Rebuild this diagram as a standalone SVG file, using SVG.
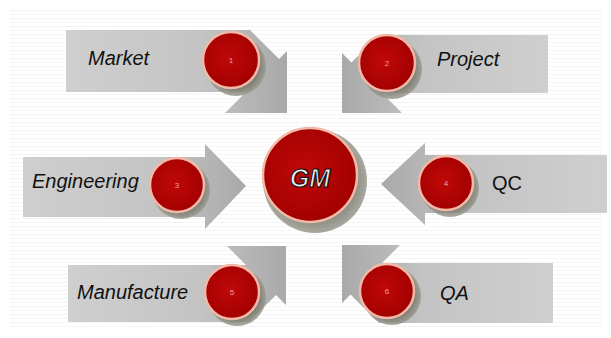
<svg xmlns="http://www.w3.org/2000/svg" width="611" height="338" viewBox="0 0 611 338">
<defs>
<pattern id="stripes" width="6" height="4" patternUnits="userSpaceOnUse">
<rect width="6" height="4" fill="#ffffff"/>
<rect y="2" width="6" height="1" fill="#f4f4f4"/>
</pattern>
<linearGradient id="armH" x1="0" y1="0" x2="1" y2="0">
<stop offset="0" stop-color="#cfcfcf"/>
<stop offset="0.6" stop-color="#c4c4c4"/>
<stop offset="1" stop-color="#a9a9a9"/>
</linearGradient>
<linearGradient id="armHr" x1="1" y1="0" x2="0" y2="0">
<stop offset="0" stop-color="#cfcfcf"/>
<stop offset="0.6" stop-color="#c4c4c4"/>
<stop offset="1" stop-color="#a9a9a9"/>
</linearGradient>
<radialGradient id="red" cx="0.45" cy="0.45" r="0.6">
<stop offset="0" stop-color="#c00808"/>
<stop offset="1" stop-color="#a00000"/>
</radialGradient>
<radialGradient id="shadow" cx="0.5" cy="0.5" r="0.5">
<stop offset="0.7" stop-color="#6f6f62"/>
<stop offset="1" stop-color="#9a9a90"/>
</radialGradient>
</defs>
<style>
.txt{font-family:"Liberation Sans",Arial,sans-serif;font-size:20px;fill:#111;font-style:italic}
.num{font-family:"Liberation Sans",Arial,sans-serif;font-size:8px;fill:#f0a0a0;text-anchor:middle}
.disc{fill:url(#red);stroke:#f2b8a8;stroke-width:2.5}
.shd{fill:url(#shadow);opacity:0.85}
.gm{font-family:"Liberation Sans",Arial,sans-serif;font-size:25px;font-weight:bold;font-style:italic;fill:#eeeeee;stroke:#111;stroke-width:1.2;text-anchor:middle}
</style>
<rect x="0" y="0" width="611" height="338" fill="#ffffff"/>
<rect x="10" y="8" width="592" height="322" fill="url(#stripes)"/>

<g id="connectors"></g>

<g id="market">
<polygon points="66,30 250,30 279,59 287,51 287,113 225,113 246,92 66,92" fill="url(#armH)"/>
<circle class="shd" cx="236" cy="66" r="30"/>
<circle class="disc" cx="231" cy="60" r="28"/>
<text class="num" x="231" y="63">1</text>
<text class="txt" x="88" y="65">Market</text>
</g>

<g id="project">
<polygon points="548,35 379,35 351.5,62.5 342,53 342,113 402,113 382,93 548,93" fill="url(#armHr)"/>
<circle class="shd" cx="392" cy="69" r="30"/>
<circle class="disc" cx="387" cy="63" r="28"/>
<text class="num" x="387" y="66">2</text>
<text class="txt" x="437" y="66">Project</text>
</g>

<g id="engineering">
<polygon points="23,157 205,157 205,144 246,186 205,229 205,217 23,217" fill="url(#armH)"/>
<circle class="shd" cx="181" cy="190" r="29"/>
<circle class="disc" cx="177" cy="185" r="27"/>
<text class="num" x="177" y="188">3</text>
<text class="txt" x="32" y="188">Engineering</text>
</g>

<g id="qc">
<polygon points="607,155 425,155 425,143 381,184 425,225 425,213 607,213" fill="url(#armHr)"/>
<circle class="shd" cx="450" cy="188" r="29"/>
<circle class="disc" cx="446" cy="183" r="27"/>
<text class="num" x="446" y="186">4</text>
<text class="txt" x="492" y="190" style="font-style:normal">QC</text>
</g>

<g id="manufacture">
<polygon points="68,265 246,265 227,246 286,246 286,305 276,295 249,322 68,322" fill="url(#armH)"/>
<circle class="shd" cx="237" cy="297" r="29"/>
<circle class="disc" cx="232" cy="292" r="27"/>
<text class="num" x="232" y="295">5</text>
<text class="txt" x="77" y="299">Manufacture</text>
</g>

<g id="qa">
<polygon points="553,263 382,263 400,245 342,245 342,303 350.5,294.5 379,323 553,323" fill="url(#armHr)"/>
<circle class="shd" cx="392" cy="296" r="29"/>
<circle class="disc" cx="387" cy="291" r="27"/>
<text class="num" x="387" y="294">6</text>
<text class="txt" x="440" y="300">QA</text>
</g>

<g id="gm">
<circle class="shd" cx="315" cy="181" r="52"/>
<circle class="disc" cx="310" cy="175" r="47"/>
<text class="gm" x="310" y="187">GM</text>
</g>
</svg>
